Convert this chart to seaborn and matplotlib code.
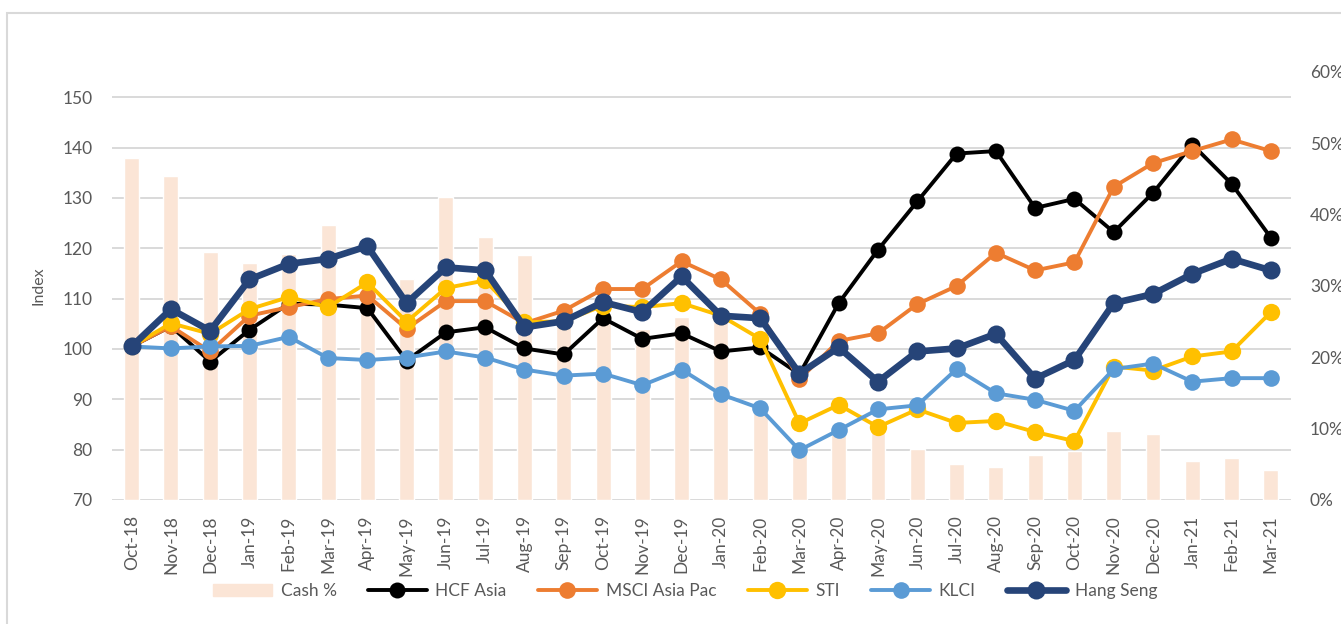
import matplotlib

matplotlib.use("Agg")
import matplotlib.pyplot as plt
import numpy as np
import pandas as pd
import seaborn as sns
from matplotlib.patches import Patch, Rectangle
from matplotlib.ticker import PercentFormatter

months = [
    "Oct-18", "Nov-18", "Dec-18", "Jan-19", "Feb-19", "Mar-19", "Apr-19",
    "May-19", "Jun-19", "Jul-19", "Aug-19", "Sep-19", "Oct-19", "Nov-19",
    "Dec-19", "Jan-20", "Feb-20", "Mar-20", "Apr-20", "May-20", "Jun-20",
    "Jul-20", "Aug-20", "Sep-20", "Oct-20", "Nov-20", "Dec-20", "Jan-21",
    "Feb-21", "Mar-21",
]

cash_pct = [
    47.9, 45.4, 34.8, 33.2, 34.5, 38.6, 30.0, 31.0, 42.5, 36.9,
    34.4, 26.0, 25.0, 24.0, 25.6, 25.0, 13.0, 7.3, 9.7, 10.0,
    7.2, 5.0, 4.6, 6.3, 6.9, 9.7, 9.3, 5.5, 5.9, 4.2,
]

hcf_asia = [
    100.5, 104.5, 97.5, 103.8, 109.0, 108.8, 108.1, 97.7, 103.3, 104.3,
    100.1, 98.9, 106.1, 102.0, 103.1, 99.5, 100.3, 95.0, 109.1, 119.7,
    129.3, 138.8, 139.3, 128.0, 129.8, 123.2, 131.0, 140.6, 132.8, 122.1,
]
msci_asia_pac = [
    100.5, 104.5, 99.5, 106.6, 108.3, 109.9, 110.6, 104.0, 109.5, 109.5,
    105.1, 107.6, 111.9, 111.9, 117.4, 113.8, 107.0, 94.0, 101.6, 103.1,
    108.9, 112.5, 119.1, 115.6, 117.2, 132.2, 136.9, 139.3, 141.6, 139.3,
]
sti = [
    100.5, 105.1, 103.0, 107.9, 110.3, 108.3, 113.2, 105.4, 112.1, 113.6,
    105.3, 105.5, 108.6, 108.3, 109.1, 106.6, 102.0, 85.2, 88.9, 84.5,
    88.0, 85.3, 85.7, 83.5, 81.7, 96.5, 95.7, 98.5, 99.5, 107.3,
]
klci = [
    100.5, 100.1, 100.5, 100.6, 102.4, 98.2, 97.8, 98.3, 99.5, 98.3,
    95.9, 94.7, 95.1, 92.8, 95.9, 91.0, 88.2, 79.9, 83.9, 88.0,
    88.8, 96.0, 91.2, 89.9, 87.7, 96.0, 97.1, 93.5, 94.2, 94.2,
]
hang_seng = [
    100.5, 107.9, 103.6, 113.8, 116.9, 117.9, 120.4, 109.1, 116.2, 115.6,
    104.3, 105.5, 109.3, 107.3, 114.4, 106.6, 106.1, 95.1, 100.3, 93.5,
    99.5, 100.1, 103.0, 94.1, 97.8, 109.1, 110.9, 114.9, 117.9, 115.6,
]

series = [
    ("HCF Asia", hcf_asia, "#000000", 2.8, 11.5),
    ("MSCI Asia Pac", msci_asia_pac, "#ED7D31", 2.8, 12),
    ("STI", sti, "#FFC000", 2.8, 12.5),
    ("KLCI", klci, "#5B9BD5", 2.8, 12),
    ("Hang Seng", hang_seng, "#264478", 4.8, 13),
]
bar_color = "#FBE5D6"
text_color = "#595959"

sns.set_style("white")
plt.rcParams["font.family"] = ["Lato", "DejaVu Sans"]
plt.rcParams["text.color"] = text_color
plt.rcParams["axes.labelcolor"] = text_color
plt.rcParams["xtick.color"] = text_color
plt.rcParams["ytick.color"] = text_color

fig = plt.figure(figsize=(13.41, 6.24), dpi=100)
ax = fig.add_axes([112 / 1341, 1 - 500 / 624, 1178.5 / 1341, 428 / 624])
axb = ax.twinx()
axl = ax.twinx()

# cash % bars on the secondary axis
df_cash = pd.DataFrame({"month": months, "cash": np.array(cash_pct) / 100})
sns.barplot(data=df_cash, x="month", y="cash", color=bar_color, width=0.38,
            saturation=1, ax=axb)
axb.set_ylim(0, 0.6)
axb.set_yticks(np.arange(0, 0.61, 0.1))
axb.yaxis.set_major_formatter(PercentFormatter(1.0, decimals=0))
axb.set_ylabel("")
axb.set_xlabel("")

x = np.arange(len(months))
for name, vals, color, lw, ms in series:
    sns.lineplot(x=x, y=vals, ax=axl, color=color, linewidth=lw, marker="o",
                 markersize=ms, markeredgewidth=0, label=name)
axl.set_ylim(70, 155)
axl.set_yticks([])
axl.set_ylabel("")
handles, labels = axl.get_legend_handles_labels()
axl.get_legend().remove()

ax.set_ylim(70, 155)
ax.set_yticks(np.arange(70, 151, 10))
ax.set_xlim(-0.5, len(months) - 0.5)
ax.set_xticks(x)
ax.set_xticklabels(months, rotation=90)
ax.grid(axis="y", color="#D9D9D9", linewidth=1.4)
ax.grid(axis="x", visible=False)
ax.set_ylabel("Index", fontsize=11.5, labelpad=12)

for a in (ax, axb, axl):
    for s in a.spines.values():
        s.set_visible(False)
ax.tick_params(axis="both", length=0, labelsize=12.5)
ax.tick_params(axis="y", pad=14)
ax.tick_params(axis="x", pad=11)
axb.tick_params(axis="y", length=0, labelsize=12.5, pad=14)

fig.legend(
    [Patch(color=bar_color)] + handles,
    ["Cash %"] + labels,
    loc="center",
    bbox_to_anchor=(685 / 1341, 1 - 591 / 624),
    ncol=6,
    frameon=False,
    fontsize=12.5,
    handlelength=3.4,
    handletextpad=0.5,
    columnspacing=1.8,
)

# chart border
fig.patches.append(Rectangle((7 / 1341, -0.1), 1.1, 1.1 - 13.5 / 624,
                             transform=fig.transFigure, fill=False,
                             edgecolor="#D9D9D9", linewidth=1.5))

fig.savefig("out.png", dpi=100)
